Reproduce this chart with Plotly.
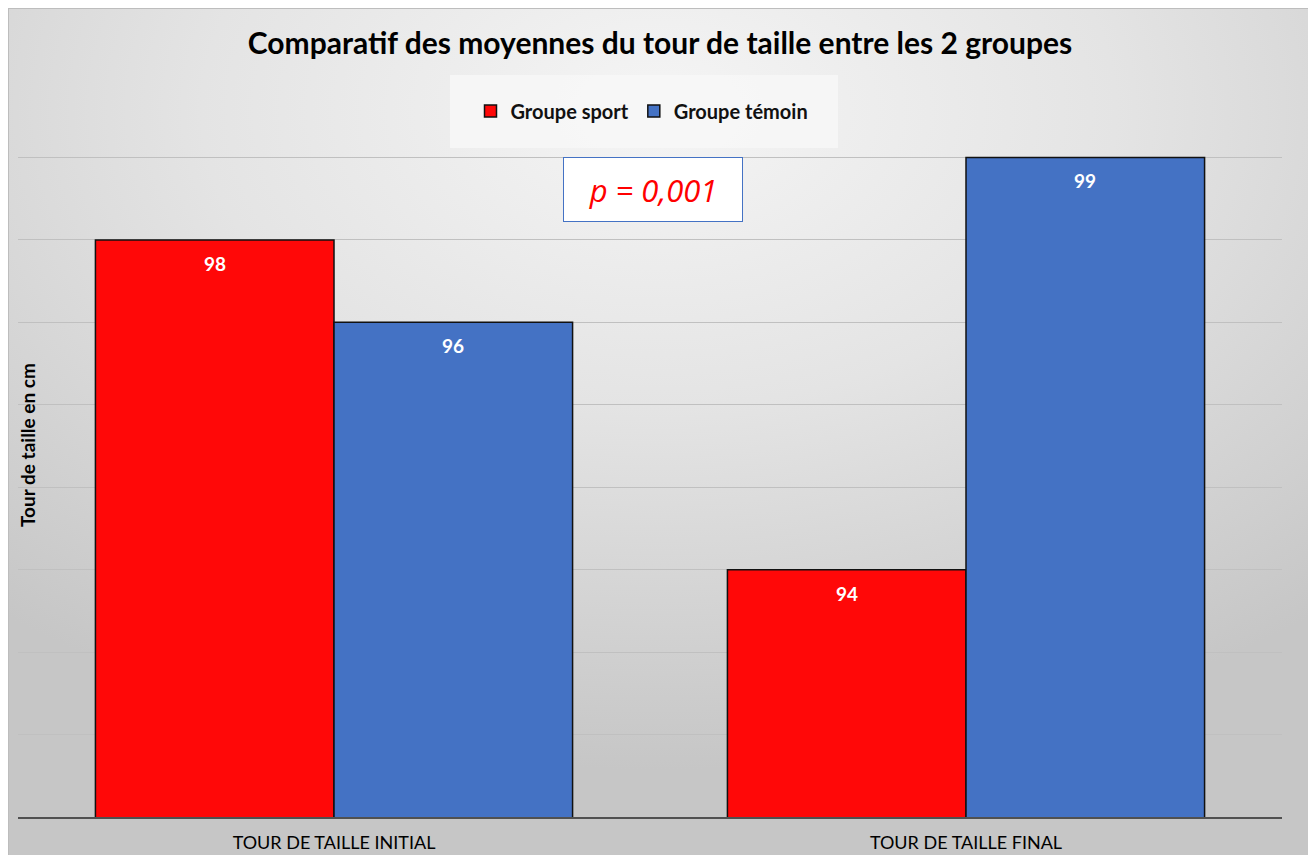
import base64
import plotly.graph_objects as go

# ---- data ----
categories = ["TOUR DE TAILLE INITIAL", "TOUR DE TAILLE FINAL"]
sport_values = [98, 94]
temoin_values = [97, 99]
sport_labels = ["98", "94"]
temoin_labels = ["96", "99"]
series_names = ["Groupe sport", "Groupe témoin"]
p_text = "p = 0,001"
y_title = "Tour de taille en cm"
chart_title = "Comparatif des moyennes du tour de taille entre les 2 groupes"

# page is offset by 8px body margin; figure covers page x 8..1310, y 8..855
OFF = 8
W, H = 1302, 847
ML, MT = 18 - OFF, 75 - OFF
MR = W - (1282 - OFF)
MB = H - (817 - OFF)
PW, PH = W - ML - MR, H - MT - MB

def px_to_paper_x(px):
    return (px - OFF - ML) / PW

def px_to_paper_y(py):
    return (H - MB - (py - OFF)) / PH

RED = "#FF0808"
BLUE = "#4472C4"
FONT = "Lato"

svg = f'''<svg xmlns="http://www.w3.org/2000/svg" width="{W}" height="{H}" viewBox="0 0 {W} {H}" preserveAspectRatio="none">
<defs><radialGradient id="g" cx="50%" cy="12%" r="78%" fx="50%" fy="12%">
<stop offset="0%" stop-color="#f5f5f5"/><stop offset="45%" stop-color="#e4e4e4"/><stop offset="100%" stop-color="#c6c6c6"/>
</radialGradient></defs>
<rect x="0" y="0" width="{W}" height="{H}" fill="url(#g)"/></svg>'''
src = "data:image/svg+xml;base64," + base64.b64encode(svg.encode()).decode()

fig = go.Figure()
fig.add_trace(go.Bar(
    x=categories, y=sport_values, name=f"<b>{series_names[0]}</b>",
    marker=dict(color=RED, line=dict(color="#111111", width=1.5)),
))
fig.add_trace(go.Bar(
    x=categories, y=temoin_values, name=f"<b>{series_names[1]}</b>",
    marker=dict(color=BLUE, line=dict(color="#111111", width=1.5)),
))

annotations = []
for i, c in enumerate(categories):
    annotations.append(dict(x=c, y=sport_values[i], xref="x", yref="y", xshift=-119, yshift=-10,
                            yanchor="top", text=f"<b>{sport_labels[i]}</b>", showarrow=False,
                            font=dict(family=FONT, size=19, color="white")))
    annotations.append(dict(x=c, y=temoin_values[i], xref="x", yref="y", xshift=119, yshift=-10,
                            yanchor="top", text=f"<b>{temoin_labels[i]}</b>", showarrow=False,
                            font=dict(family=FONT, size=19, color="white")))

annotations.append(dict(x=px_to_paper_x(653), y=px_to_paper_y(189), xref="paper", yref="paper",
                        text=f"<i>{p_text}</i>", showarrow=False, xanchor="center", yanchor="middle",
                        width=178, height=63, bgcolor="white", bordercolor=BLUE, borderwidth=1, borderpad=0,
                        font=dict(family="Open Sans", size=31, color="#FF0000")))
annotations.append(dict(x=px_to_paper_x(27), y=px_to_paper_y(445), xref="paper", yref="paper", textangle=-90,
                        text=f"<b>{y_title}</b>", showarrow=False, xanchor="center", yanchor="middle",
                        font=dict(family=FONT, size=19, color="#000000")))

shapes = [
    dict(type="rect", xref="paper", yref="paper",
         x0=px_to_paper_x(450), x1=px_to_paper_x(838), y0=px_to_paper_y(148), y1=px_to_paper_y(75),
         fillcolor="rgba(248,248,248,0.8)", line=dict(width=0), layer="below"),
    dict(type="rect", xref="paper", yref="paper",
         x0=-ML / PW, x1=(W - ML) / PW, y0=-MB / PH - 0.02, y1=(H - MB) / PH,
         fillcolor="rgba(0,0,0,0)", line=dict(color="#bdbdbd", width=2), layer="below"),
]

fig.update_layout(
    width=W, height=H,
    margin=dict(l=ML, r=MR, t=MT, b=MB, autoexpand=False),
    paper_bgcolor="#d4d4d4", plot_bgcolor="rgba(0,0,0,0)",
    barmode="group", bargap=0.245, bargroupgap=0,
    title=dict(text=f"<b>{chart_title}</b>", x=(660 - OFF) / W, xanchor="center",
               y=1 - (43 - OFF) / H, yanchor="middle",
               font=dict(family=FONT, size=30, color="#000000")),
    legend=dict(orientation="h", x=px_to_paper_x(642), y=px_to_paper_y(111), xanchor="center", yanchor="middle",
                bgcolor="rgba(0,0,0,0)", font=dict(family=FONT, size=20, color="#111111"),
                itemwidth=30, traceorder="normal"),
    images=[dict(source=src, xref="paper", yref="paper",
                 x=-ML / PW, y=(H - MB) / PH, sizex=W / PW, sizey=H / PH,
                 sizing="stretch", xanchor="left", yanchor="top", layer="below")],
    shapes=shapes,
    annotations=annotations,
    showlegend=True,
)
fig.update_yaxes(range=[91, 100], dtick=1, showticklabels=False, showgrid=True, automargin=False,
                 gridcolor="#c0c0c0", gridwidth=1.2, zeroline=False, showline=False, ticks="")
fig.update_xaxes(showline=True, linecolor="#505050", linewidth=2, ticks="", showgrid=False,
                 ticklabelstandoff=8, automargin=False,
                 tickfont=dict(family=FONT, size=18, color="#000000"))

fig.write_html("out.html")
